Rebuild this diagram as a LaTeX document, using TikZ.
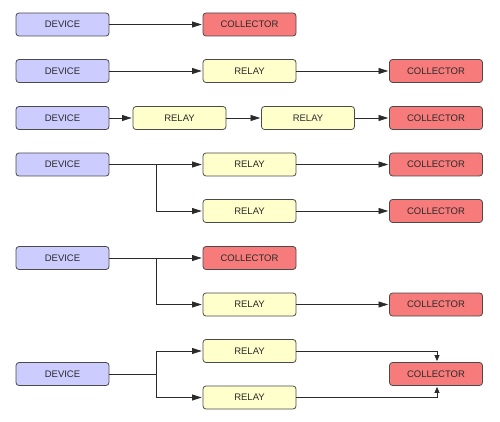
\documentclass[tikz,border=0pt]{standalone}
\usepackage{fontspec}
\setmainfont{Liberation Sans}
\usetikzlibrary{arrows.meta}
\definecolor{devfill}{HTML}{CCCCFF}
\definecolor{relfill}{HTML}{FFFFCC}
\definecolor{colfill}{HTML}{F77B7B}
\definecolor{edgecol}{HTML}{4A4A4A}
\definecolor{txtcol}{HTML}{2A2A2A}
\begin{document}
\begin{tikzpicture}[x=1pt,y=-1pt,
  box/.style={draw=edgecol, line width=0.8pt, rounded corners=3pt, minimum width=93pt, minimum height=23pt, inner sep=0pt, font=\fontsize{9.5}{11}\selectfont, text=txtcol},
  dev/.style={box, fill=devfill},
  rel/.style={box, fill=relfill},
  col/.style={box, fill=colfill},
  conn/.style={draw=txtcol, line width=0.7pt, -{Triangle[length=9.5pt,width=6pt]}, shorten >=1pt},
  plain/.style={draw=txtcol, line width=0.7pt}]
\path[use as bounding box, fill=white] (0,0) rectangle (500,422);
% row 1
\node[dev] (d1) at (62.5,24.5) {DEVICE};
\node[col] (c1) at (249.5,24.5) {COLLECTOR};
\draw[conn] (d1) -- (c1);
% row 2
\node[dev] (d2) at (62.5,71) {DEVICE};
\node[rel] (r2) at (249.5,71) {RELAY};
\node[col] (c2) at (436,71) {COLLECTOR};
\draw[conn] (d2) -- (r2);
\draw[conn] (r2) -- (c2);
% row 3
\node[dev] (d3) at (62.5,118) {DEVICE};
\node[rel] (r3a) at (179.5,118) {RELAY};
\node[rel] (r3b) at (308,118) {RELAY};
\node[col] (c3) at (436,118) {COLLECTOR};
\draw[conn] (d3) -- (r3a);
\draw[conn] (r3a) -- (r3b);
\draw[conn] (r3b) -- (c3);
% row 4
\node[dev] (d4) at (62.5,164.5) {DEVICE};
\node[rel] (r4a) at (249.5,164.5) {RELAY};
\node[rel] (r4b) at (249.5,211) {RELAY};
\node[col] (c4a) at (436,164.5) {COLLECTOR};
\node[col] (c4b) at (436,211) {COLLECTOR};
\coordinate (b4) at (156,164.5);
\draw[conn] (d4) -- (r4a);
\draw[conn] (b4) |- (r4b);
\draw[conn] (r4a) -- (c4a);
\draw[conn] (r4b) -- (c4b);
% row 5
\node[dev] (d5) at (62.5,258) {DEVICE};
\node[col] (c5a) at (249.5,258) {COLLECTOR};
\node[rel] (r5) at (249.5,304.5) {RELAY};
\node[col] (c5b) at (436,304.5) {COLLECTOR};
\coordinate (b5) at (156,258);
\draw[conn] (d5) -- (c5a);
\draw[conn] (b5) |- (r5);
\draw[conn] (r5) -- (c5b);
% row 6
\node[dev] (d6) at (62.5,374) {DEVICE};
\node[rel] (r6a) at (249.5,351) {RELAY};
\node[rel] (r6b) at (249.5,397.5) {RELAY};
\node[col] (c6) at (436,374) {COLLECTOR};
\coordinate (b6) at (156,374);
\draw[plain] (d6) -- (b6);
\draw[conn] (b6) |- (r6a);
\draw[conn] (b6) |- (r6b);
\draw[conn, -{Triangle[length=6pt,width=5pt]}] (r6a) -| ([xshift=1pt]c6.north);
\draw[conn, -{Triangle[length=6pt,width=5pt]}] (r6b) -| ([xshift=1pt]c6.south);
\end{tikzpicture}
\end{document}
